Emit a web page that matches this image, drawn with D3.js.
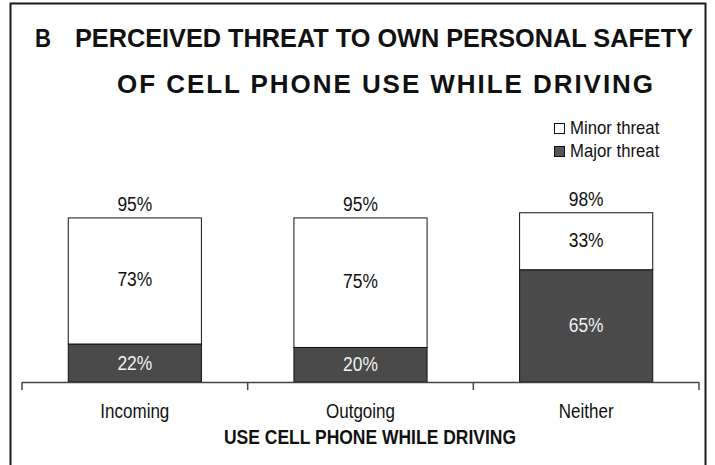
<!DOCTYPE html>
<html>
<head>
<meta charset="utf-8">
<script src="https://cdn.jsdelivr.net/npm/d3@7"></script>
<style>
  html, body { margin: 0; padding: 0; background: #fff; }
  svg { display: block; font-family: "Liberation Sans", Arial, sans-serif; }
</style>
</head>
<body>
<svg id="chart" width="715" height="465"></svg>
<script>
// ---- data ----
const categories = ["Incoming", "Outgoing", "Neither"];
const majorThreat = [22, 20, 65];
const minorThreat = [73, 75, 33];
const totals = [95, 95, 98];
const seriesNames = ["Minor threat", "Major threat"];
const titleLetter = "B";
const titleLines = ["PERCEIVED THREAT TO OWN PERSONAL SAFETY", "OF CELL PHONE USE WHILE DRIVING"];
const xAxisTitle = "USE CELL PHONE WHILE DRIVING";

const svg = d3.select("#chart");
const majorColor = "#4a4a4a";

// outer frame
svg.append("rect")
  .attr("x", 10.5).attr("y", 3.5)
  .attr("width", 695).attr("height", 520)
  .attr("fill", "none").attr("stroke", "#1a1a1a").attr("stroke-width", 2);

// scales
const x = d3.scaleBand().domain(categories).range([22, 699]).padding(0);
const y = d3.scaleLinear().domain([0, 100]).range([382, 209.3]);
const barW = x.bandwidth() * 0.59;

// helper to add horizontally condensed text
function ctext(parent, txt, cx, by, size, sx, opts = {}) {
  const g = parent.append("g").attr("transform", `translate(${cx},${by}) scale(${sx},1)`);
  return g.append("text")
    .attr("text-anchor", opts.anchor || "middle")
    .attr("font-size", size)
    .attr("font-weight", opts.weight || "normal")
    .attr("fill", opts.fill || "#111")
    .text(txt);
}

// title
svg.append("text").attr("x", 35).attr("y", 47)
  .attr("font-size", 26).attr("font-weight", "bold").attr("fill", "#111")
  .attr("textLength", 16).attr("lengthAdjust", "spacingAndGlyphs")
  .text(titleLetter);
svg.append("text").attr("x", 75).attr("y", 47)
  .attr("font-size", 26).attr("font-weight", "bold").attr("fill", "#111")
  .attr("textLength", 618).attr("lengthAdjust", "spacingAndGlyphs")
  .text(titleLines[0]);
svg.append("text").attr("x", 117).attr("y", 93)
  .attr("font-size", 26).attr("font-weight", "bold").attr("fill", "#111")
  .attr("textLength", 536).attr("lengthAdjust", "spacing")
  .text(titleLines[1]);

// bars
const data = categories.map((c, i) => ({ c, major: majorThreat[i], minor: minorThreat[i], total: totals[i] }));
const bars = svg.append("g");
data.forEach(d => {
  const cx = x(d.c) + x.bandwidth() / 2;
  const x0 = cx - barW / 2;
  bars.append("rect")
    .attr("x", x0).attr("y", y(d.major))
    .attr("width", barW).attr("height", y(0) - y(d.major))
    .attr("fill", majorColor).attr("stroke", "#111").attr("stroke-width", 1);
  bars.append("rect")
    .attr("x", x0).attr("y", y(d.total))
    .attr("width", barW).attr("height", y(d.major) - y(d.total))
    .attr("fill", "#fff").attr("stroke", "#111").attr("stroke-width", 1);
  ctext(svg, d.major + "%", cx, (y(0) + y(d.major)) / 2 + 6.5, 20, 0.87, { fill: "#f0f0f0" });
  ctext(svg, d.minor + "%", cx, (y(d.major) + y(d.total)) / 2 + 5.5, 20, 0.87);
  ctext(svg, d.total + "%", cx, y(d.total) - 7, 20, 0.87);
});

// x axis
const axisG = svg.append("g");
axisG.append("line").attr("x1", 22).attr("x2", 699).attr("y1", 382.5).attr("y2", 382.5)
  .attr("stroke", "#444").attr("stroke-width", 1.5);
const tickPos = categories.map(c => x(c)).concat([x.range()[1]]);
tickPos.forEach(t => {
  axisG.append("line").attr("x1", t).attr("x2", t).attr("y1", 382).attr("y2", 390)
    .attr("stroke", "#444").attr("stroke-width", 1.5);
});
categories.forEach(c => {
  ctext(svg, c, x(c) + x.bandwidth() / 2, 418, 21, 0.81);
});
svg.append("text").attr("x", 224).attr("y", 444)
  .attr("font-size", 21).attr("font-weight", "bold").attr("fill", "#111")
  .attr("textLength", 292).attr("lengthAdjust", "spacingAndGlyphs")
  .text(xAxisTitle);

// legend
const legend = svg.append("g");
const legendFills = ["#fff", "#555"];
seriesNames.forEach((n, i) => {
  legend.append("rect").attr("x", 554.5).attr("y", 123.5 + i * 23)
    .attr("width", 10).attr("height", 10)
    .attr("fill", legendFills[i]).attr("stroke", "#111").attr("stroke-width", 1);
  ctext(legend, n, 570, 134 + i * 23, 18, 0.93, { anchor: "start" });
});
</script>
</body>
</html>
